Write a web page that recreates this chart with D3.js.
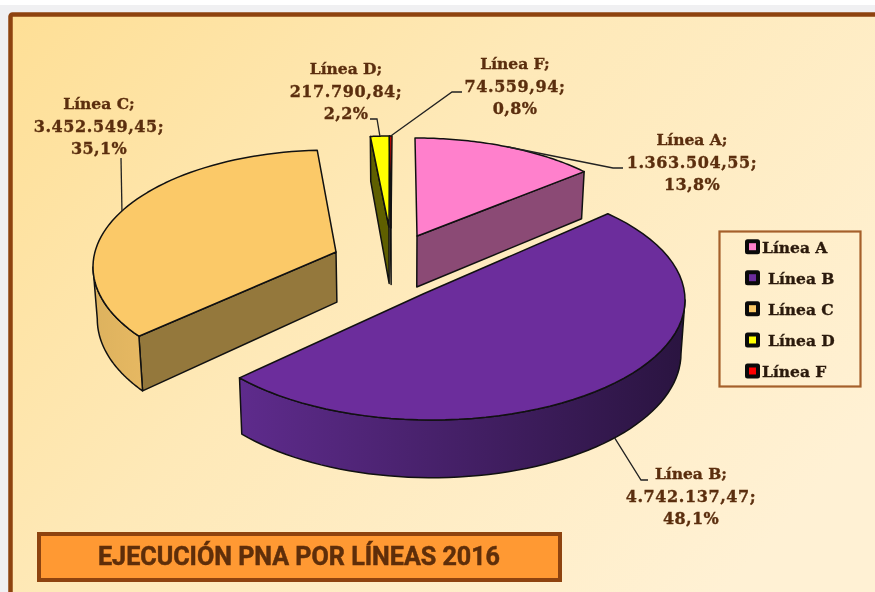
<!DOCTYPE html>
<html>
<head>
<meta charset="utf-8">
<script src="https://cdn.jsdelivr.net/npm/d3@7"></script>
<style>
html,body{margin:0;padding:0;background:#fff;overflow:hidden}
svg{display:block;filter:blur(0.4px)}
</style>
</head>
<body>
<div id="chart"></div>
<script>
// --- data ---
const categories = ["Línea A", "Línea B", "Línea C", "Línea D", "Línea F"];
const values = [1363504.55, 4742137.47, 3452549.45, 217790.84, 74559.94];
const percents = [13.8, 48.1, 35.1, 2.2, 0.8];
const chartTitle = "EJECUCIÓN PNA POR LÍNEAS 2016";

// --- colours ---
const topColors = ["#FF80CC", "#6C2D9C", "#FBC968", "#FFFF00", "#FF0000"];
const cutColors = ["#8B4A75", "#3a1a55", "#94783C", "#5F5F00", "#3a2a10"];
const wallLeft = [null, "#5E2B8C", "#DDB25E", null, null];
const wallRight = [null, "#2A1440", "#E6B862", null, null];

// --- 3D layout: every exploded slice has its own projected disc ---
const discX = [415, 432, 330, 392, 392];
const discY = [248, 300, 267, 246, 246];
const discRx = [235, 253, 237, 235, 235];
const discRy = [110, 120, 117, 110, 110];
const apexX = [417, 423, 336, 389, 391];
const apexY = [236, 294, 252, 227, 228];
const apexDrop = [0, 0, -1.5, 6, 6];
const turn = [0, -2, 2.2, 0, 0];            // small per-slice turn of the disc, degrees
const warp = d3.scaleLinear()               // perspective compresses the far side of the disc
  .domain([0, 49.8, 223.1, 349.3, 357.3, 360])
  .range([0, 46, 231.5, 354.7, 359.4, 360]);
const depth = d3.scaleLinear().domain([137, 236, 373]).range([45, 51, 56]);
const vanishX = 400;

// --- label / legend layout ---
const labelX = [692, 691, 99, 346, 515];
const labelY = [139, 473, 103, 68, 63];
const labelGap = 22.7;
const elbows = [[[613,168],[623,168]], [[641,480],[648,480]], [[121,158]], [[377,119],[370,119]], [[452,92],[462,92]]];
const anchorTurn = [0, -4, 3.3, 0, 0];
const legendY = [246.7, 277.7, 308.7, 340, 371];
const legendTextX = [762, 768, 768, 768, 762];

const W = 875, H = 592;
const svg = d3.select("#chart").append("svg").attr("width", W).attr("height", H);
const defs = svg.append("defs");

// page and panel
const bgGrad = defs.append("linearGradient").attr("id", "panel")
  .attr("gradientUnits", "userSpaceOnUse")
  .attr("x1", 12).attr("y1", 16).attr("x2", 700).attr("y2", 620);
bgGrad.append("stop").attr("offset", 0).attr("stop-color", "#FEDF96");
bgGrad.append("stop").attr("offset", 0.45).attr("stop-color", "#FEE9B8");
bgGrad.append("stop").attr("offset", 1).attr("stop-color", "#FFF1D4");

svg.append("rect").attr("width", W).attr("height", H).attr("fill", "#fff");
svg.append("rect").attr("x", 0).attr("y", 5).attr("width", W).attr("height", H).attr("fill", "#F0F0F2");
svg.append("rect").attr("x", 10.5).attr("y", 14.5).attr("width", W + 20).attr("height", H + 20)
  .attr("rx", 2).attr("fill", "url(#panel)").attr("stroke", "#8E430F").attr("stroke-width", 4.5);

// pie angles
const pieGen = d3.pie().sort(null).value(d => d);
const arcs = pieGen(values).map((a, i) => {
  const s = warp(a.startAngle * 180 / Math.PI) + turn[i];
  const e = warp(a.endAngle * 180 / Math.PI) + turn[i];
  return { i, s, e };
});
const pt = (i, deg) => {
  const r = deg * Math.PI / 180;
  return [discX[i] + discRx[i] * Math.sin(r), discY[i] - discRy[i] * Math.cos(r)];
};
const down = p => [p[0] + (vanishX - p[0]) * 0.014, p[1] + depth(p[1])];
const arcPts = (i, a, b) => d3.range(0, 61).map(k => pt(i, a + (b - a) * k / 60));
const line = d3.line();

const pieG = svg.append("g").attr("stroke", "#111").attr("stroke-width", 1.5).attr("stroke-linejoin", "round");

// gradients for curved walls
arcs.forEach(a => {
  if (!wallLeft[a.i]) return;
  const g = defs.append("linearGradient").attr("id", "wall" + a.i);
  g.append("stop").attr("offset", 0).attr("stop-color", wallLeft[a.i]);
  g.append("stop").attr("offset", 1).attr("stop-color", wallRight[a.i]);
});

// painter's order: back slices first, the large near slice last
[0, 2, 3, 4, 1].forEach(i => {
  const a = arcs[i];
  const apex = [apexX[i], apexY[i]];
  // flat cut face that looks towards the viewer
  const edge = (i === 0) ? pt(i, a.e) : (i === 1 ? null : pt(i, a.s));
  if (edge) {
    const low = down(apex);
    low[1] += apexDrop[i];
    pieG.append("path").attr("fill", cutColors[i])
      .attr("d", line([apex, edge, down(edge), low]) + "Z");
  }
  // curved outer wall, only the part on the near side
  const wa = Math.max(a.s, 90), wb = Math.min(a.e, 270);
  if (wallLeft[i] && wb > wa) {
    const t = arcPts(i, wa, wb);
    pieG.append("path").attr("fill", "url(#wall" + i + ")")
      .attr("d", line(t.concat(t.slice().reverse().map(down))) + "Z");
  }
  // top face
  pieG.append("path").attr("fill", topColors[i])
    .attr("d", line([apex].concat(arcPts(i, a.s, a.e))) + "Z");
});

// leader lines, anchored at the middle of each slice
const leaderG = svg.append("g").attr("fill", "none").attr("stroke", "#222").attr("stroke-width", 1.3);
arcs.forEach(a => {
  let p = pt(a.i, (a.s + a.e) / 2 + anchorTurn[a.i]);
  if (a.i === 1) p = down(p);
  leaderG.append("path").attr("d", line([p].concat(elbows[a.i])));
});

// data labels
const esLocale = d3.formatLocale({ decimal: ",", thousands: ".", grouping: [3], currency: ["", ""] });
const fmtVal = esLocale.format(",.2f"), fmtPct = esLocale.format(".1f");
const serif = "'DejaVu Serif', serif";
categories.forEach((c, i) => {
  const t = svg.append("text").attr("text-anchor", "middle")
    .attr("font-family", serif).attr("font-weight", "bold").attr("font-size", 16)
    .attr("fill", "#5B2E0E").attr("stroke", "#5B2E0E").attr("stroke-width", 0.35);
  [c + ";", fmtVal(values[i]) + ";", fmtPct(percents[i]) + "%"].forEach((s, k) => {
    t.append("tspan").attr("x", labelX[i]).attr("y", labelY[i] + k * labelGap + 6)
      .attr("font-size", k === 0 ? 15.5 : 16)
      .attr("letter-spacing", k === 0 ? 0 : (k === 1 ? 0.6 : 0.4)).text(s);
  });
});

// legend
svg.append("rect").attr("x", 719.5).attr("y", 231.5).attr("width", 141).attr("height", 155)
  .attr("fill", "none").attr("stroke", "#A5602B").attr("stroke-width", 2.2);
categories.forEach((c, i) => {
  const g = svg.append("g");
  g.append("rect").attr("x", 745).attr("y", legendY[i] - 7.5).attr("width", 15).attr("height", 15)
    .attr("rx", 2.5).attr("fill", "#0a0a0a");
  g.append("rect").attr("x", 749).attr("y", legendY[i] - 3.5).attr("width", 7).attr("height", 7)
    .attr("fill", topColors[i]);
  g.append("text").attr("x", legendTextX[i]).attr("y", legendY[i] + 6)
    .attr("font-family", serif).attr("font-weight", "bold").attr("font-size", 15.5)
    .attr("fill", "#2B1A0C").attr("stroke", "#2B1A0C").attr("stroke-width", 0.35).text(c);
});

// title plate
svg.append("rect").attr("x", 39).attr("y", 534).attr("width", 521).attr("height", 46)
  .attr("fill", "#FF9933").attr("stroke", "#8E430F").attr("stroke-width", 4);
svg.append("text").attr("x", 299).attr("y", 565).attr("text-anchor", "middle")
  .attr("font-family", "'Liberation Sans Narrow','Roboto','Liberation Sans',sans-serif")
  .attr("font-weight", "bold").attr("font-size", 25)
  .attr("textLength", 402).attr("lengthAdjust", "spacingAndGlyphs")
  .attr("fill", "#5E2E0A").attr("stroke", "#5E2E0A").attr("stroke-width", 0.5)
  .text(chartTitle);
</script>
</body>
</html>
